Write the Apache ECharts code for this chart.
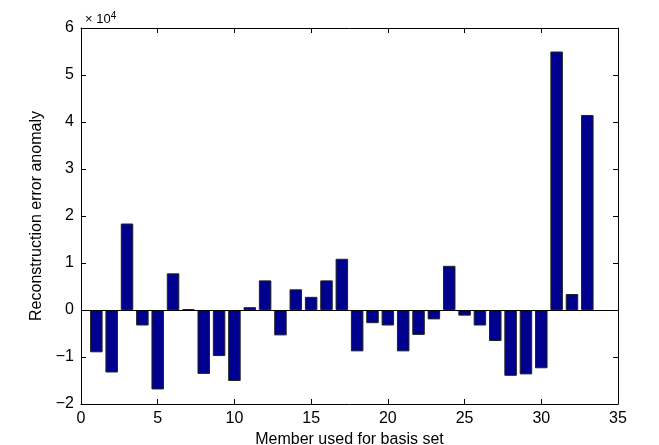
<!DOCTYPE html>
<html>
<head>
<meta charset="utf-8">
<script src="https://cdn.jsdelivr.net/npm/echarts@6/dist/echarts.min.js"></script>
<style>
  html, body { margin: 0; padding: 0; background: #fff; }
  #chart { width: 659px; height: 445px; }
</style>
</head>
<body>
<div id="chart"></div>
<script>
// member index used for basis set
const members = [1, 2, 3, 4, 5, 6, 7, 8, 9, 10, 11, 12, 13, 14, 15, 16, 17,
  18, 19, 20, 21, 22, 23, 24, 25, 26, 27, 28, 29, 30, 31, 32, 33]
// reconstruction error anomaly, in units of 1e4
const anomaly = [-0.90, -1.33, 1.84, -0.33, -1.69, 0.78, 0.02, -1.36, -0.98, -1.51, 0.06,
  0.63, -0.54, 0.44, 0.28, 0.63, 1.09, -0.88, -0.28, -0.33, -0.88, -0.53, -0.20,
  0.94, -0.12, -0.33, -0.66, -1.40, -1.37, -1.24, 5.50, 0.34, 4.15]

const chart = echarts.init(document.getElementById('chart'))

const font = 'Liberation Sans, Arial, Helvetica, sans-serif'
const axisCommon = {
  axisLine: { show: true, onZero: false, lineStyle: { color: '#000', width: 1 } },
  axisTick: { show: true, inside: true, length: 5, lineStyle: { color: '#000' } },
  splitLine: { show: false },
}

const option = {
  animation: false,
  backgroundColor: '#fff',
  textStyle: { fontFamily: font },
  grid: { left: 81, right: 41, top: 28, bottom: 41, outerBoundsMode: 'none' },
  xAxis: [
    {
      ...axisCommon,
      type: 'value', min: 0, max: 35, interval: 5,
      position: 'bottom',
      axisLabel: { color: '#000', fontSize: 16, margin: 7, fontFamily: font },
      name: 'Member used for basis set',
      nameLocation: 'middle',
      nameGap: 27,
      nameTextStyle: { color: '#000', fontSize: 16, fontFamily: font },
    },
    {
      ...axisCommon,
      type: 'value', min: 0, max: 35, interval: 5,
      position: 'top',
      axisLabel: { show: false },
    },
  ],
  yAxis: [
    {
      ...axisCommon,
      type: 'value', min: -2, max: 6, interval: 1,
      position: 'left',
      axisLabel: {
        color: '#000', fontSize: 16, margin: 7, fontFamily: font,
        formatter: v => String(v).replace('-', '\u2212'),
      },
      name: 'Reconstruction error anomaly',
      nameLocation: 'middle',
      nameGap: 30,
      nameTextStyle: { color: '#000', fontSize: 16, fontFamily: font },
    },
    {
      ...axisCommon,
      type: 'value', min: -2, max: 6, interval: 1,
      position: 'right',
      axisLabel: { show: false },
    },
  ],
  graphic: [
    {
      type: 'text',
      left: 85, top: 11,
      style: {
        text: '× 10{s|4}',
        fill: '#000',
        font: '13px ' + font,
        rich: { s: { fontSize: 10, verticalAlign: 'top', padding: [0, 0, 7, 0], fill: '#000' } },
      },
    },
  ],
  series: [
    {
      type: 'bar',
      xAxisIndex: 0,
      yAxisIndex: 0,
      data: members.map((m, i) => [m, anomaly[i]]),
      barWidth: 12.5,
      itemStyle: { color: '#00008F', borderColor: '#222', borderWidth: 1 },
      markLine: {
        silent: true,
        symbol: 'none',
        label: { show: false },
        lineStyle: { color: '#000', width: 1, type: 'solid' },
        data: [{ yAxis: 0 }],
      },
    },
  ],
}

chart.setOption(option)
</script>
</body>
</html>
